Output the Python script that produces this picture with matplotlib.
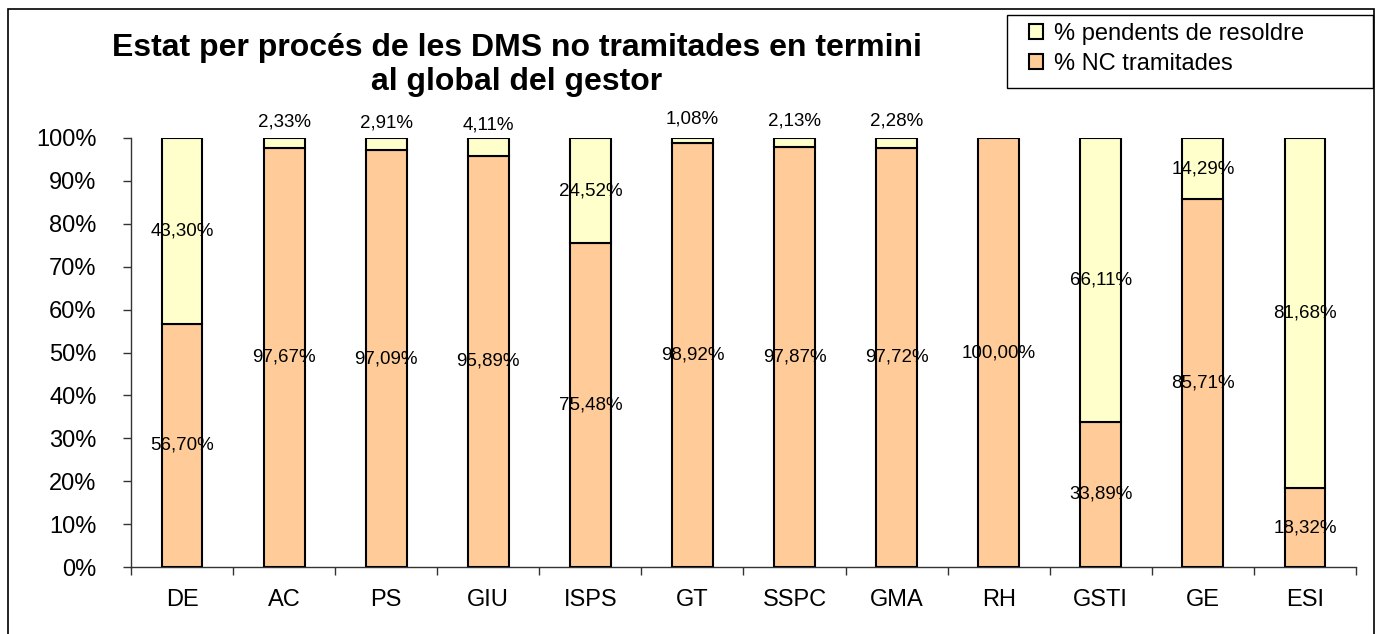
import matplotlib
matplotlib.use("Agg")
import matplotlib.pyplot as plt
from matplotlib.patches import Rectangle
import numpy as np

categories = ["DE", "AC", "PS", "GIU", "ISPS", "GT", "SSPC", "GMA", "RH", "GSTI", "GE", "ESI"]
tramitades = [56.70, 97.67, 97.09, 95.89, 75.48, 98.92, 97.87, 97.72, 100.00, 33.89, 85.71, 18.32]
pendents = [43.30, 2.33, 2.91, 4.11, 24.52, 1.08, 2.13, 2.28, 0.00, 66.11, 14.29, 81.68]
series_names = ["% pendents de resoldre", "% NC tramitades"]
title = "Estat per procés de les DMS no tramitades en termini\nal global del gestor"

plt.rcParams['font.family'] = ['Liberation Sans', 'DejaVu Sans']

W, H = 1378, 634
fig = plt.figure(figsize=(W / 100, H / 100), dpi=100)
ax = fig.add_axes([131 / W, 1 - 567 / H, (1356 - 131) / W, (567 - 138) / H])

c_orange = "#FFCC99"
c_yellow = "#FFFFCC"
x = np.arange(len(categories))
bw = 0.4
tram = np.array(tramitades)
pend = np.array(pendents)
ax.bar(x, tram, width=bw, color=c_orange, edgecolor="black", linewidth=1.5, label=series_names[1], zorder=3)
mask = pend > 0
ax.bar(x[mask], pend[mask], bottom=tram[mask], width=bw, color=c_yellow, edgecolor="black",
       linewidth=1.5, label=series_names[0], zorder=3)

def fmt(v):
    return f"{v:.2f}".replace(".", ",") + "%"

for i in range(len(categories)):
    ax.text(x[i], tram[i] / 2, fmt(tram[i]), ha="center", va="center", fontsize=13.5, zorder=5)
    if pend[i] > 0:
        mid = tram[i] + pend[i] / 2
        if pend[i] < 5:
            mid += 5
        ax.text(x[i], mid, fmt(pend[i]), ha="center", va="center", fontsize=13.5, zorder=5,
                clip_on=False)

ax.set_xlim(-0.5, len(categories) - 0.5)
ax.set_ylim(0, 100)
ax.set_yticks(np.arange(0, 101, 10))
ax.set_yticklabels([f"{v}%" for v in range(0, 101, 10)])
ax.set_xticks(x)
ax.set_xticklabels(categories)
ax.set_xticks(np.arange(-0.5, len(categories), 1), minor=True)
ax.tick_params(axis="x", which="major", length=0, pad=16, labelsize=17)
ax.tick_params(axis="x", which="minor", length=5.8, width=1, color="#333333", direction="out")
ax.tick_params(axis="y", length=5.8, width=1, color="#333333", pad=19, labelsize=17)
ax.spines["top"].set_visible(False)
ax.spines["right"].set_visible(False)
for s in ("left", "bottom"):
    ax.spines[s].set_color("#333333")
    ax.spines[s].set_linewidth(1)
ax.set_facecolor("white")

fig.text(517 / W, 1 - 65 / H, title, ha="center", va="center", fontsize=23,
         fontweight="bold", linespacing=1.17)

handles, labels = ax.get_legend_handles_labels()
leg = fig.legend(handles[::-1], labels[::-1], loc="upper left",
                 bbox_to_anchor=(1029 / W, 1 - 23 / H), frameon=False,
                 fontsize=17, handlelength=0.6, handleheight=0.6, handletextpad=0.45,
                 borderpad=0.0, labelspacing=0.32, borderaxespad=0)
fig.add_artist(Rectangle((1007 / W, 1 - 88 / H), (1373 - 1007) / W, (88 - 15) / H,
                         transform=fig.transFigure, fill=False, edgecolor="black",
                         linewidth=1.0))

fig.add_artist(Rectangle((8 / W, -0.05), (1374 - 8) / W, 1 - 9 / H + 0.05,
                         transform=fig.transFigure, fill=False, edgecolor="black",
                         linewidth=1.2))

fig.savefig("out.png", dpi=100)
